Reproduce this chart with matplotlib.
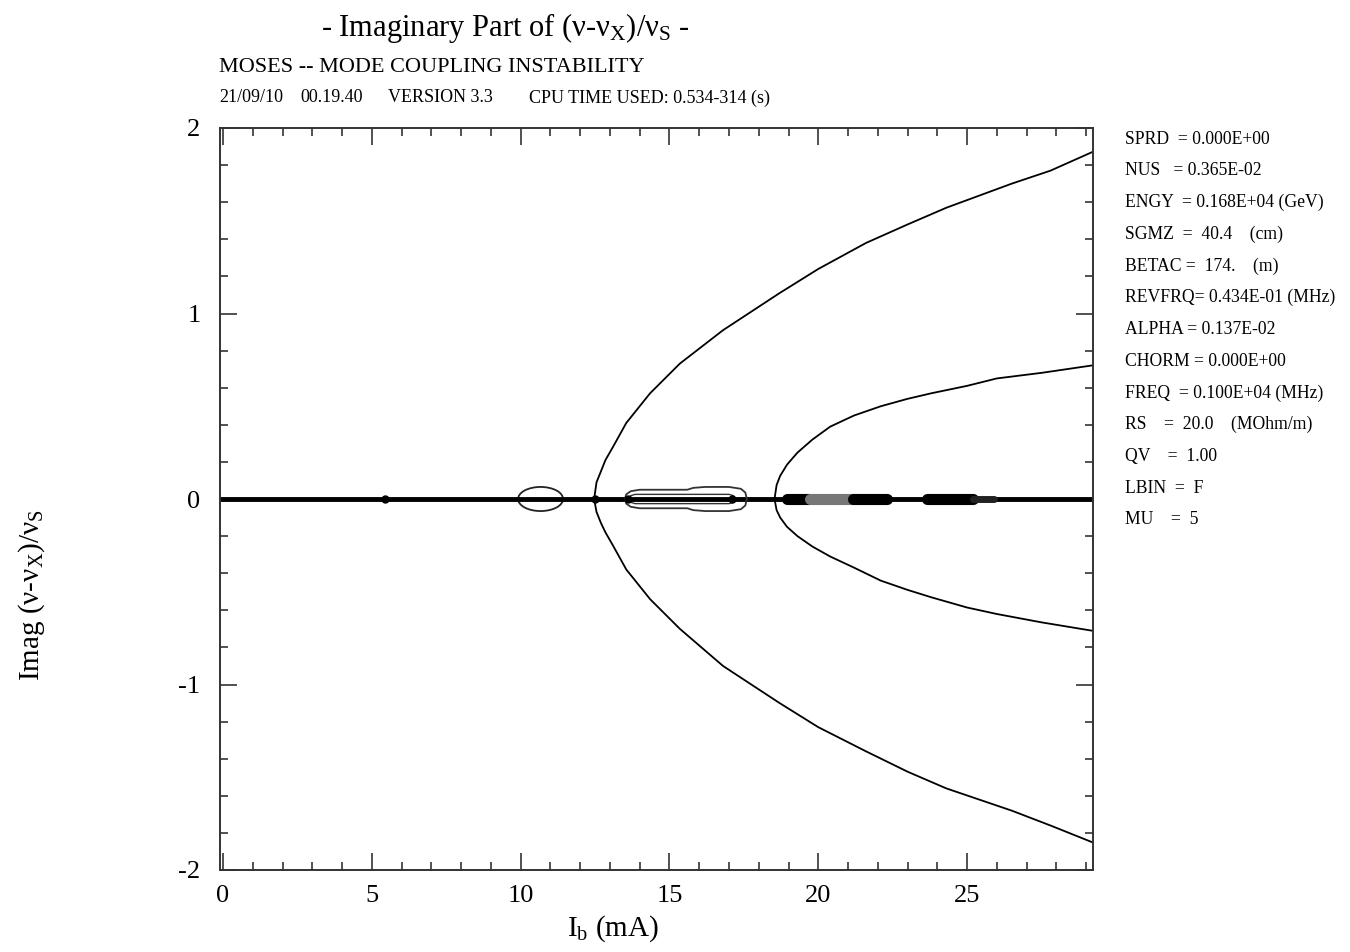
import matplotlib
matplotlib.use("Agg")
import matplotlib.pyplot as plt
from matplotlib.patches import Ellipse

plt.rcParams['font.family'] = ['Liberation Serif', 'DejaVu Serif']
plt.rcParams['mathtext.fontset'] = 'custom'
plt.rcParams['mathtext.rm'] = 'Liberation Serif'
plt.rcParams['mathtext.it'] = 'Liberation Serif:italic'
plt.rcParams['axes.unicode_minus'] = False

# ---- data ----
b1_I = [12.47, 12.55, 12.7, 12.85, 13.1, 13.55, 14.35, 15.35, 16.8, 18.7, 20.0, 21.6, 23.0, 24.3, 26.5, 27.8, 29.2]
b1_up = [0.0, 0.09, 0.15, 0.21, 0.28, 0.41, 0.57, 0.73, 0.91, 1.11, 1.24, 1.38, 1.48, 1.57, 1.70, 1.77, 1.87]
b1_dn = [0.0, -0.07, -0.13, -0.18, -0.25, -0.38, -0.54, -0.70, -0.90, -1.10, -1.23, -1.36, -1.47, -1.56, -1.68, -1.76, -1.85]

b2_I = [18.53, 18.6, 18.72, 18.95, 19.3, 19.8, 20.4, 21.2, 22.1, 23.0, 23.8, 25.0, 26.0, 27.5, 29.2]
b2_up = [0.0, 0.075, 0.125, 0.185, 0.25, 0.32, 0.39, 0.45, 0.50, 0.54, 0.57, 0.61, 0.65, 0.68, 0.72]
b2_dn = [0.0, -0.06, -0.10, -0.15, -0.20, -0.256, -0.31, -0.37, -0.44, -0.49, -0.53, -0.585, -0.62, -0.665, -0.71]

# small loop near 10.7 mA
loop1_center = 10.67
loop1_width = 1.51
loop1_height = 0.13

# elongated loop between 13.5 and 17.6 mA
loop2_I = [13.5, 13.55, 13.7, 14.0, 15.0, 15.6, 15.8, 16.2, 17.0, 17.4, 17.55, 17.6,
           17.55, 17.4, 17.0, 16.2, 15.8, 15.6, 14.0, 13.7, 13.55, 13.5]
loop2_Y = [0.0, 0.025, 0.042, 0.05, 0.05, 0.05, 0.06, 0.065, 0.065, 0.055, 0.035, 0.0,
           -0.035, -0.055, -0.065, -0.065, -0.06, -0.05, -0.05, -0.042, -0.025, 0.0]
loop3_I = [13.6, 13.7, 13.85, 17.0, 17.15, 17.2, 17.15, 17.0, 13.85, 13.7, 13.6]
loop3_Y = [0.0, 0.018, 0.025, 0.025, 0.018, 0.0, -0.018, -0.025, -0.025, -0.018, 0.0]

# thick segments on the zero line
seg_start = [18.94, 19.72, 21.17, 23.65, 25.2]
seg_end = [19.72, 21.17, 22.3, 25.2, 25.9]
seg_color = ['black', '#777777', 'black', 'black', '#222222']
seg_width = [8, 8, 8, 8, 5]

dot_I = [5.45, 12.5, 13.6, 17.1]

xticks = [0, 5, 10, 15, 20, 25]
yticks = [-2, -1, 0, 1, 2]

params = ["SPRD  = 0.000E+00", "NUS   = 0.365E-02", "ENGY  = 0.168E+04 (GeV)",
          "SGMZ  =  40.4    (cm)", "BETAC =  174.    (m)", "REVFRQ= 0.434E-01 (MHz)",
          "ALPHA = 0.137E-02", "CHORM = 0.000E+00", "FREQ  = 0.100E+04 (MHz)",
          "RS    =  20.0    (MOhm/m)", "QV    =  1.00", "LBIN  =  F", "MU    =  5"]

date_parts = ["21/09/10", "00.19.40", "VERSION 3.3", "CPU TIME USED: 0.534-314 (s)"]
date_x = [219, 300, 388, 529]

W, H = 1350, 952
fig = plt.figure(figsize=(13.5, 9.52), dpi=100)
ax = fig.add_axes([220 / W, 1 - 870 / H, (1093 - 220) / W, (870 - 128) / H])

lw = 1.3
ax.axhline(0, color='black', lw=3.5, zorder=2)
ax.plot(b1_I, b1_up, color='black', lw=lw)
ax.plot(b1_I, b1_dn, color='black', lw=lw)
ax.plot(b2_I, b2_up, color='black', lw=lw)
ax.plot(b2_I, b2_dn, color='black', lw=lw)
ax.add_patch(Ellipse((loop1_center, 0), loop1_width, loop1_height, fill=False,
                     edgecolor='#222222', lw=lw))
ax.plot(loop2_I, loop2_Y, color='#333333', lw=lw)
ax.plot(loop3_I, loop3_Y, color='#333333', lw=1.0)
for s, e, c, w in zip(seg_start, seg_end, seg_color, seg_width):
    ax.plot([s, e], [0, 0], color=c, lw=w, solid_capstyle='round', zorder=3)
ax.plot(dot_I, [0] * len(dot_I), 'o', color='black', ms=5, zorder=4)

ax.set_xlim(-0.1, 29.23)
ax.set_ylim(-2, 2)
ax.set_xticks(xticks)
ax.set_yticks(yticks)
ax.set_xticks([i for i in range(0, 30)], minor=True)
ax.set_yticks([v / 5 for v in range(-10, 11)], minor=True)
ax.tick_params(which='both', direction='in', top=True, right=True, color='#333333', width=1.2)
ax.tick_params(which='major', length=12, labelsize=19)
ax.tick_params(axis='x', which='major', pad=11)
ax.tick_params(axis='y', which='major', pad=14)
ax.tick_params(which='minor', length=6)
for sp in ax.spines.values():
    sp.set_linewidth(1.4)
    sp.set_color('#333333')

fig.text(613 / W, 1 - 929 / H, r"I$_\mathrm{b}$ (mA)", fontsize=21, ha='center', va='center')
fig.text(32 / W, 1 - 595 / H, r"Imag (ν-ν$_\mathrm{X}$)/ν$_\mathrm{S}$", rotation=90,
         fontsize=21, ha='center', va='center')

fig.text(505 / W, 1 - 28 / H, r"- Imaginary Part of (ν-ν$_\mathrm{X}$)/ν$_\mathrm{S}$ -",
         fontsize=22, ha='center', va='center')
fig.text(219 / W, 1 - 67 / H, "MOSES -- MODE COUPLING INSTABILITY", fontsize=16,
         ha='left', va='center')
for t, x in zip(date_parts, date_x):
    fig.text(x / W, 1 - 98 / H, t, fontsize=13, ha='left', va='center')

y0 = 139
dy = 31.75
for i, p in enumerate(params):
    fig.text(1125 / W, 1 - (y0 + i * dy) / H, p, fontsize=12.7, ha='left', va='center')

fig.savefig("out.png", dpi=100)
